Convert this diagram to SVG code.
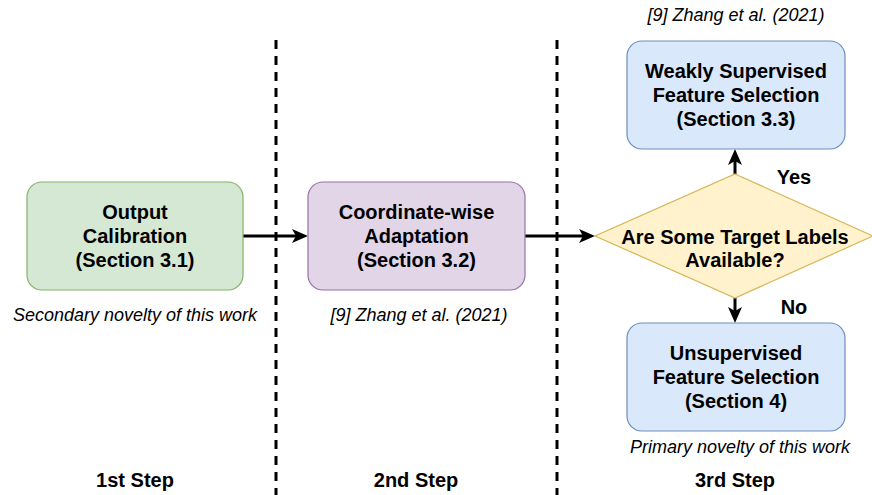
<svg xmlns="http://www.w3.org/2000/svg" width="872" height="495" viewBox="0 0 872 495">
<style>
.box{stroke-width:1.2}
.t{font-family:"Liberation Sans",Arial,sans-serif;font-weight:bold;font-size:20px;fill:#000;text-anchor:middle}
.i{font-family:"Liberation Sans",Arial,sans-serif;font-style:italic;font-size:18px;fill:#000;text-anchor:middle}
.c{stroke:#000;stroke-width:3;fill:none}
.d{stroke:#000;stroke-width:3;stroke-dasharray:9 7;fill:none}
</style>
<defs>
<marker id="ah" viewBox="0 0 16 14" markerWidth="16" markerHeight="14" refX="10" refY="7" markerUnits="userSpaceOnUse" orient="auto">
<path d="M0,0 L16,7 L0,14 L4,7 z" fill="#000"/>
</marker>
</defs>
<rect width="872" height="495" fill="#fff"/>
<g id="dividers">
<line class="d" x1="276" y1="40" x2="276" y2="495"/>
<line class="d" x1="557" y1="40" x2="557" y2="495"/>
</g>
<g id="connectors">
<line class="c" x1="243" y1="236" x2="302" y2="236" marker-end="url(#ah)"/>
<line class="c" x1="525" y1="236" x2="589" y2="236" marker-end="url(#ah)"/>
<line class="c" x1="735" y1="174" x2="735" y2="155" marker-end="url(#ah)"/>
<line class="c" x1="735" y1="298" x2="735" y2="317" marker-end="url(#ah)"/>
</g>
<g id="n1">
<rect class="box" x="27" y="182" width="216" height="108" rx="15" fill="#d5e8d4" stroke="#82b366"/>
<text class="t" x="135" y="219">Output</text>
<text class="t" x="135" y="243">Calibration</text>
<text class="t" x="135" y="267">(Section 3.1)</text>
</g>
<g id="n2">
<rect class="box" x="308" y="182" width="217" height="108" rx="15" fill="#e1d5e7" stroke="#9673a6"/>
<text class="t" x="416.5" y="219">Coordinate-wise</text>
<text class="t" x="416.5" y="243">Adaptation</text>
<text class="t" x="416.5" y="267">(Section 3.2)</text>
</g>
<g id="n3">
<polygon points="735,174 873,236 735,298 595,236" fill="#fff2cc" stroke="#d6b656" stroke-width="1.2"/>
<text class="t" x="735" y="244">Are Some Target Labels</text>
<text class="t" x="735" y="267">Available?</text>
</g>
<g id="n4">
<rect class="box" x="627" y="41" width="218" height="108" rx="15" fill="#dae8fc" stroke="#6c8ebf"/>
<text class="t" x="736" y="78">Weakly Supervised</text>
<text class="t" x="736" y="102">Feature Selection</text>
<text class="t" x="736" y="126">(Section 3.3)</text>
</g>
<g id="n5">
<rect class="box" x="627" y="323" width="218" height="108" rx="15" fill="#dae8fc" stroke="#6c8ebf"/>
<text class="t" x="736" y="360">Unsupervised</text>
<text class="t" x="736" y="384">Feature Selection</text>
<text class="t" x="736" y="408">(Section 4)</text>
</g>
<g id="labels">
<text class="i" x="135" y="321">Secondary novelty of this work</text>
<text class="i" x="419" y="321">[9] Zhang et al. (2021)</text>
<text class="i" x="736" y="21">[9] Zhang et al. (2021)</text>
<text class="i" x="740" y="453">Primary novelty of this work</text>
<text class="t" x="794" y="184">Yes</text>
<text class="t" x="794" y="314">No</text>
<text class="t" x="135" y="487">1st Step</text>
<text class="t" x="416" y="487">2nd Step</text>
<text class="t" x="735" y="487">3rd Step</text>
</g>
</svg>
